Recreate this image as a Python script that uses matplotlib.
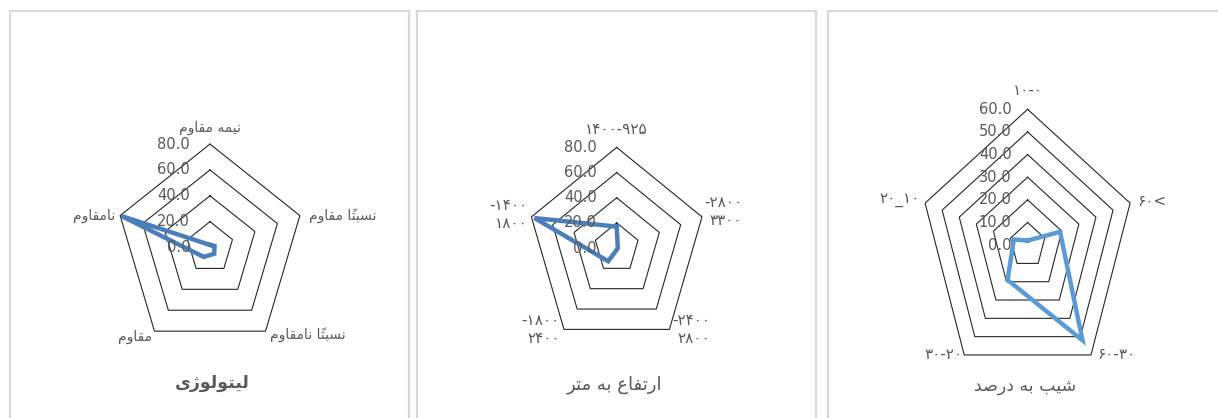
import numpy as np
import matplotlib
matplotlib.use("Agg")
import matplotlib.pyplot as plt
from matplotlib.patches import Rectangle

# ---------------------------------------------------------------- data
lith_labels = ['نیمه مقاوم', 'نسبتاً مقاوم', 'نسبتاً نامقاوم', 'مقاوم', 'نامقاوم']
lith_values = [2, 4, 6, 9, 79]
lith_ticks = [0, 20, 40, 60, 80]
lith_title = 'لیتولوژی'

# elevation / slope labels are written in visual (left-to-right) order
elev_labels = ['۱۴۰۰-۹۲۵', '-۲۸۰۰\n۳۳۰۰', '-۲۴۰۰\n۲۸۰۰', '-۱۸۰۰\n۲۴۰۰', '-۱۴۰۰\n۱۸۰۰']
elev_values = [17, 1, 1, 13, 77]
elev_ticks = [0, 20, 40, 60, 80]
elev_title = 'ارتفاع به متر'

slope_labels = ['۱۰-۰', '۶۰<', '۶۰-۳۰', '۳۰-۲۰', '۲۰_۱۰']
slope_values = [2, 19, 52, 19, 8]
slope_ticks = [0, 10, 20, 30, 40, 50, 60]
slope_title = 'شیب به درصد'

W, H = 1218, 418
GRAY = '#595959'

# ------------------------------------------------- tiny persian shaper
# char -> (isolated presentation form, joins to the next letter)
FORMS = {'ا': (0xFE8D, False), 'ب': (0xFE8F, True), 'ت': (0xFE95, True),
         'د': (0xFEA9, False), 'ر': (0xFEAD, False), 'ژ': (0xFB8A, False),
         'س': (0xFEB1, True), 'ش': (0xFEB5, True), 'ص': (0xFEB9, True),
         'ع': (0xFEC9, True), 'ف': (0xFED1, True), 'ق': (0xFED5, True),
         'ل': (0xFEDD, True), 'م': (0xFEE1, True), 'ن': (0xFEE5, True),
         'ه': (0xFEE9, True), 'و': (0xFEED, False), 'ی': (0xFBFC, True)}
MARKS = set(chr(c) for c in range(0x064B, 0x0653))


def farsi(s):
    chars = list(s)
    out = []
    for i, c in enumerate(chars):
        if c not in FORMS:
            out.append(c)
            continue
        j = i - 1
        while j >= 0 and chars[j] in MARKS:
            j -= 1
        k = i + 1
        while k < len(chars) and chars[k] in MARKS:
            k += 1
        prev_j = j >= 0 and chars[j] in FORMS and FORMS[chars[j]][1]
        next_j = FORMS[c][1] and k < len(chars) and chars[k] in FORMS
        off = 3 if (prev_j and next_j) else 1 if prev_j else 2 if next_j else 0
        out.append(chr(FORMS[c][0] + off))
    clusters = []
    for c0, c in zip(chars, out):
        if c0 in MARKS and clusters:
            clusters[-1] += c
        else:
            clusters.append(c)
    return ''.join(reversed(clusters))


fig = plt.figure(figsize=(W / 100, H / 100), dpi=100)

# panel frames
for x0, x1 in [(10, 409), (417, 816), (828, 1240)]:
    fig.add_artist(Rectangle((x0 / W, 1 - 440 / H), (x1 - x0) / W, (440 - 11) / H,
                             transform=fig.transFigure, fill=False,
                             ec='#d9d9d9', lw=1.6))

ALIGN = [('center', 'bottom'), ('left', 'center'), ('left', 'center'),
         ('right', 'center'), ('right', 'center')]


def radar(cx, cy, rx, ry, labels, values, ticks, color, tick_dx, lab_off, lab_size):
    ax = fig.add_axes([(cx - rx) / W, 1 - (cy + ry) / H, 2 * rx / W, 2 * ry / H],
                      projection='polar')
    ax.set_theta_zero_location('N')
    ax.set_theta_direction(-1)
    ax.set_aspect('auto')
    ax.set_ylim(0, ticks[-1])
    ax.set_axis_off()

    ang = np.linspace(0, 2 * np.pi, len(values), endpoint=False)
    ang_c = np.append(ang, ang[0])
    for t in ticks[1:]:
        ax.plot(ang_c, [t] * len(ang_c), color='#262626', lw=0.8, clip_on=False)
    ax.plot(ang_c, list(values) + [values[0]], color=color, lw=3.2,
            solid_joinstyle='miter', clip_on=False, zorder=5)

    for t in ticks:
        ax.annotate(f'{t:.1f}', (0, t), xytext=(tick_dx * 0.72, 0),
                    textcoords='offset points', ha='right', va='center',
                    fontsize=10.5, color=GRAY, family='DejaVu Sans',
                    annotation_clip=False, zorder=6)

    for a, lab, (dx, dy), (ha, va) in zip(ang, labels, lab_off, ALIGN):
        ax.annotate(lab, (a, ticks[-1]), xytext=(dx * 0.72, dy * 0.72),
                    textcoords='offset points', ha=ha, va=va,
                    multialignment='right', fontsize=lab_size, color=GRAY,
                    family='DejaVu Sans', linespacing=1.25,
                    annotation_clip=False)
    return ax


radar(210, 247.5, 94.5, 103.4, [farsi(s) for s in lith_labels], lith_values,
      lith_ticks, '#4A7EBB', -20,
      [(0, 9), (9, 0), (4, -3), (-2, -6), (-5, 0)], 10)
radar(616.7, 248, 89.7, 100.6, elev_labels, elev_values, elev_ticks,
      '#4A7EBB', -20,
      [(0, 10), (2, 5), (3, 0), (-4, 0), (-4, 2)], 11)
radar(1027.6, 245.1, 107.8, 135.8, slope_labels, slope_values, slope_ticks,
      '#5B9BD5', -16,
      [(0, 11), (7, 2), (6, 0), (-2, 0), (-5, 4)], 11)

fig.text(212 / W, 1 - 383 / H, farsi(lith_title), ha='center', va='center',
         fontsize=12.5, fontweight='bold', color=GRAY, family='DejaVu Sans')
fig.text(615 / W, 1 - 385 / H, farsi(elev_title), ha='center', va='center',
         fontsize=13, color=GRAY, family='DejaVu Sans')
fig.text(1025 / W, 1 - 386 / H, farsi(slope_title), ha='center', va='center',
         fontsize=12.5, color=GRAY, family='DejaVu Sans')

fig.savefig('out.png', dpi=100)
